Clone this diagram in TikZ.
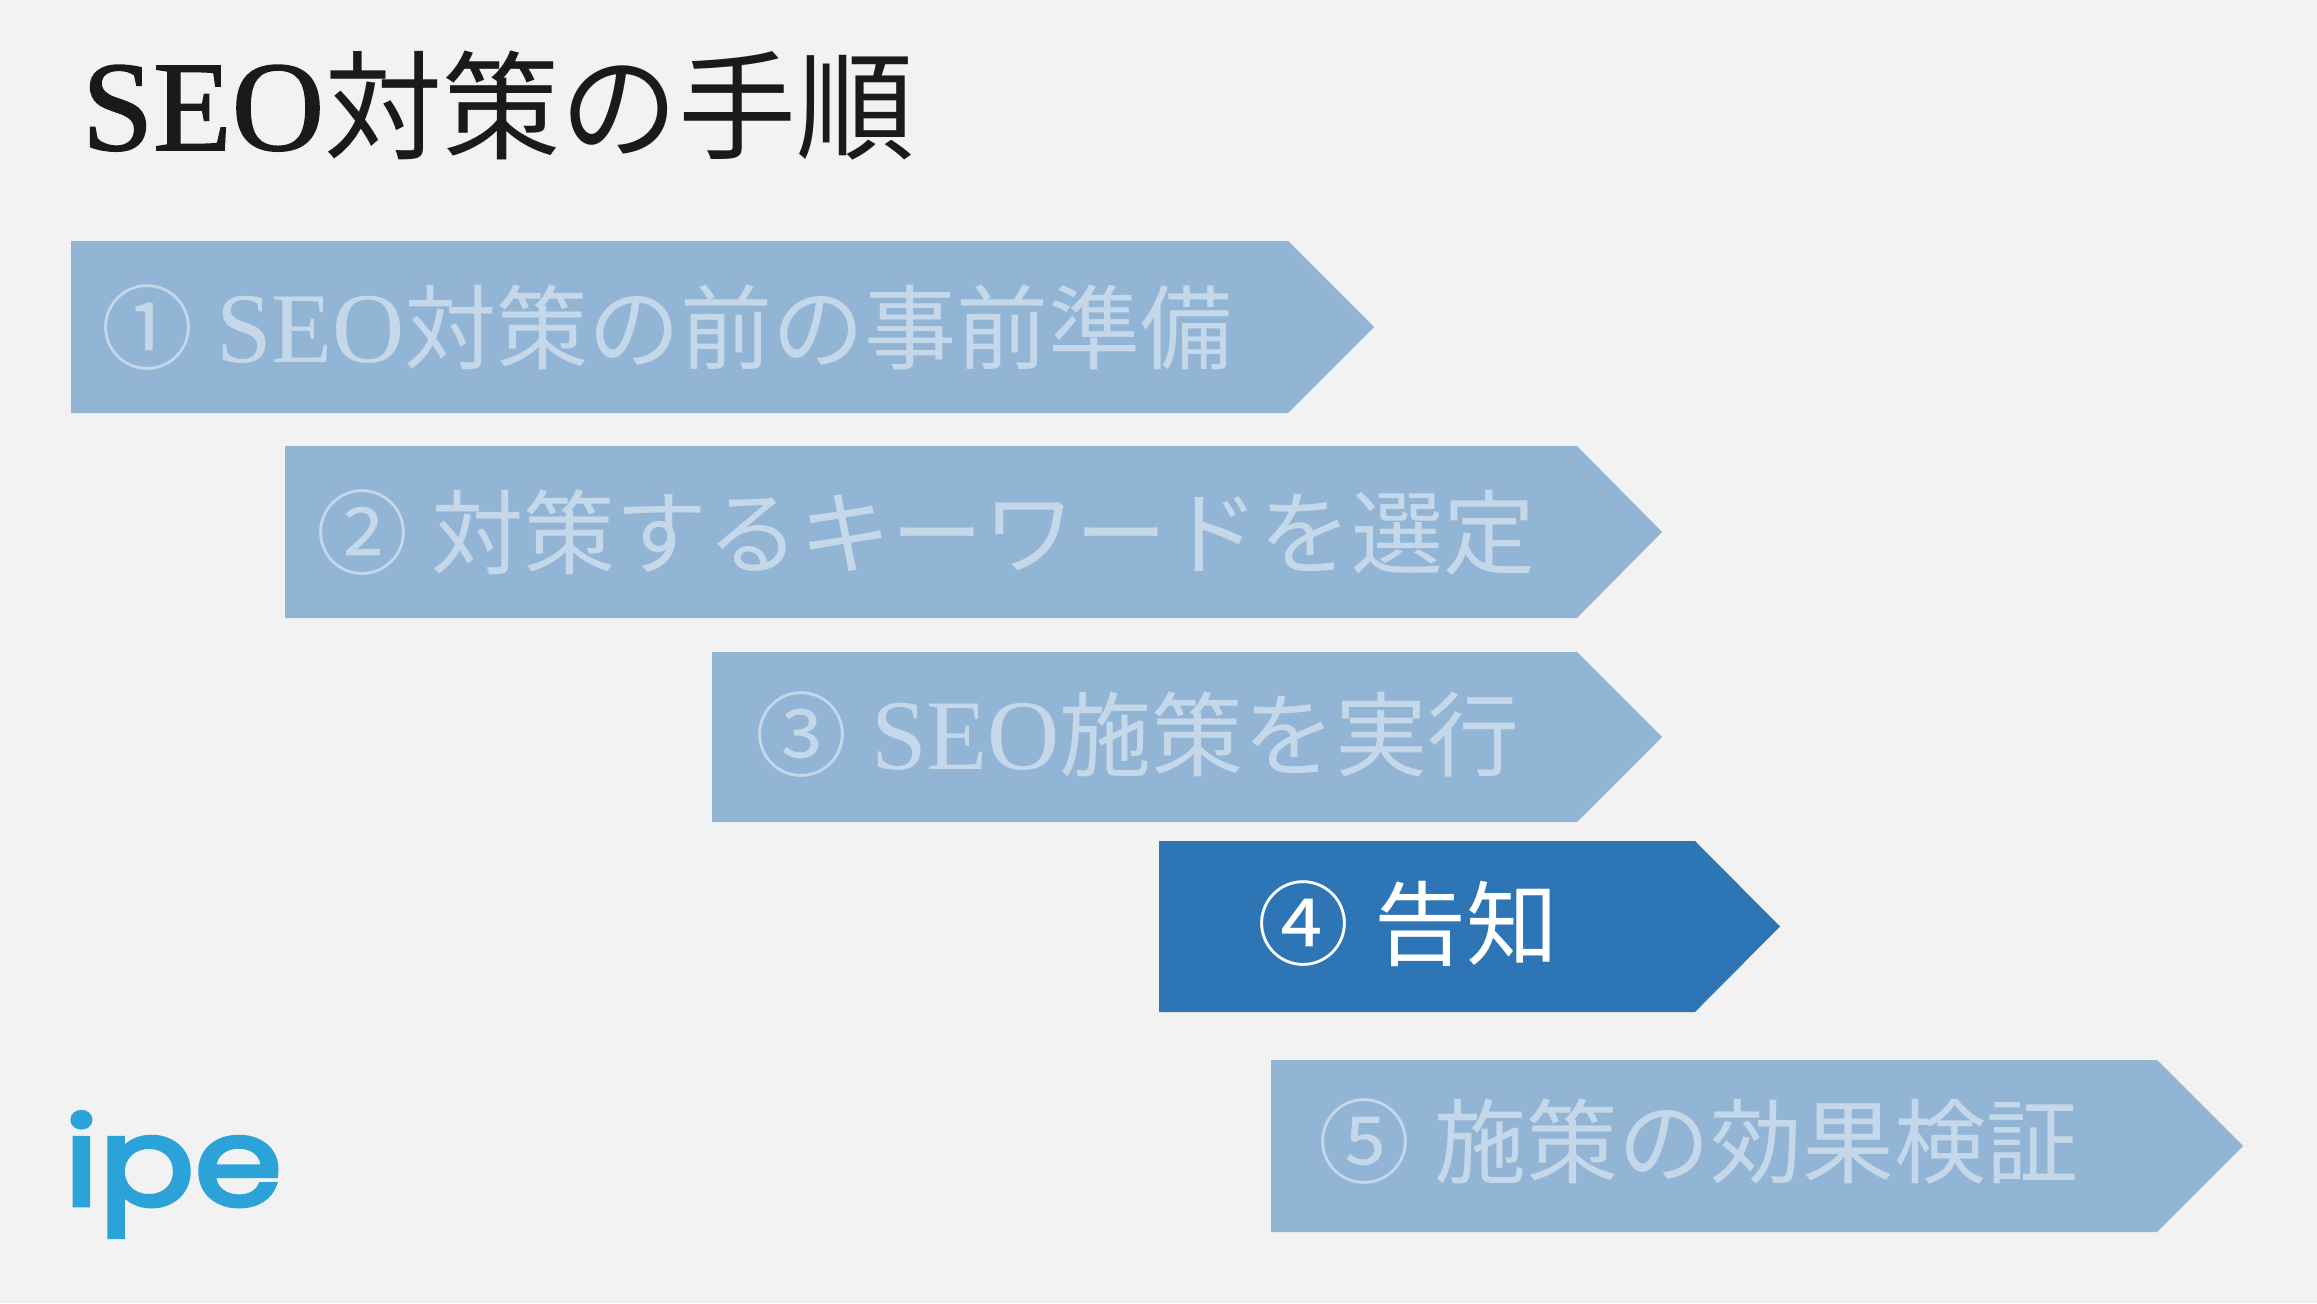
\documentclass[tikz,border=0pt]{standalone}
\usepackage{fontspec}
\setmainfont{Noto Sans CJK JP}
\newfontfamily\latinf[Scale=1.087]{Liberation Serif}
\newfontfamily\titlelatinf[Scale=1.087,FakeBold=1.2]{Liberation Serif}
\newfontfamily\logof[FakeBold=3.8,FakeStretch=1.16]{Poppins}
\definecolor{bgc}{HTML}{F2F2F2}
\definecolor{fadeb}{HTML}{92B4D5}
\definecolor{fadet}{HTML}{C5D8EA}
\definecolor{activeb}{HTML}{2E75B6}
\definecolor{titlec}{HTML}{1A1A1A}
\definecolor{logoc}{HTML}{2BA3D8}
\newcommand{\numbered}[3][116pt]{\makebox[#1][l]{#2}#3}
\tikzset{
  x=1pt,y=-1pt,
  banner/.style={fill=fadeb},
  activebanner/.style={fill=activeb},
  lab/.style={anchor=base west,inner sep=0pt,outer sep=0pt,font=\fontsize{92}{92}\selectfont,text=fadet},
  activelab/.style={lab,text=white},
  titlelab/.style={anchor=base west,inner sep=0pt,outer sep=0pt,font=\fontsize{118}{118}\selectfont,text=titlec},
  logolab/.style={anchor=base west,inner sep=0pt,outer sep=0pt,font=\logof\fontsize{122}{122}\selectfont,text=logoc}
}
\begin{document}
\begin{tikzpicture}
\useasboundingbox (0,0) rectangle (2317,1303);
\fill[bgc] (0,0) rectangle (2317,1303);
\fill[banner] (71,241) -- (1288,241) -- (1374,327) -- (1288,413) -- (71,413) -- cycle;
\fill[banner] (285,446) -- (1577,446) -- (1662,532) -- (1577,618) -- (285,618) -- cycle;
\fill[banner] (712,652) -- (1577,652) -- (1662,737) -- (1577,822) -- (712,822) -- cycle;
\fill[activebanner] (1159,841) -- (1695,841) -- (1780,926.5) -- (1695,1012) -- (1159,1012) -- cycle;
\fill[banner] (1271,1060) -- (2157,1060) -- (2243,1146) -- (2157,1232) -- (1271,1232) -- cycle;
\node[titlelab] (title) at (82,150) {{\titlelatinf SEO}対策の手順};
\node[lab] (s1) at (101,362) {\numbered[115pt]{①}{{\latinf SEO}対策の前の事前準備}};
\node[lab] (s2) at (316,567) {\numbered[115pt]{②}{対策するキーワードを選定}};
\node[lab] (s3) at (755,769) {\numbered[116pt]{③}{{\latinf SEO}施策を実行}};
\node[activelab] (s4) at (1257,958) {\numbered[118pt]{④}{告知}};
\node[lab] (s5) at (1318,1176) {\numbered[117pt]{⑤}{施策の効果検証}};
\node[logolab] (logo) at (64,1205) {ipe};
\end{tikzpicture}
\end{document}
